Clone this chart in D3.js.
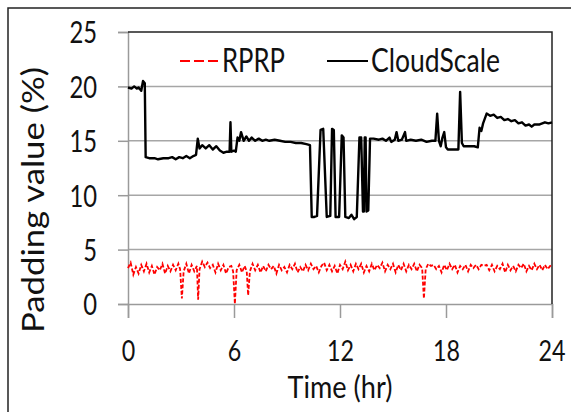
<!DOCTYPE html>
<html>
<head>
<meta charset="utf-8">
<script src="https://cdn.jsdelivr.net/npm/d3@7"></script>
<style>
  html, body { margin: 0; padding: 0; background: #fff; }
  svg { display: block; }
  text { font-family: Lato, "Open Sans", sans-serif; fill: #111; }
</style>
</head>
<body>
<svg id="chart" width="571" height="412"></svg>
<script>
// series: [hour, padding %]
const cloudScale = [
  [0.0, 19.9], [0.2, 19.8], [0.35, 20.0], [0.5, 19.8], [0.6, 19.9], [0.75, 19.6],
  [0.85, 20.5], [0.95, 20.3], [1.0, 13.5], [1.2, 13.4], [1.5, 13.4], [1.7, 13.3],
  [2.0, 13.4], [2.3, 13.4], [2.5, 13.5], [2.7, 13.3], [2.9, 13.5], [3.1, 13.4],
  [3.3, 13.6], [3.5, 13.4], [3.7, 13.6], [3.85, 13.7], [3.95, 15.2], [4.05, 14.3],
  [4.2, 14.6], [4.4, 14.3], [4.6, 14.6], [4.8, 14.2], [5.0, 14.5], [5.2, 14.1],
  [5.4, 13.9], [5.6, 14.0], [5.75, 14.0], [5.8, 16.7], [5.85, 14.0], [6.0, 14.1],
  [6.1, 14.0], [6.2, 15.3], [6.3, 15.0], [6.4, 15.8], [6.55, 15.0], [6.7, 15.4],
  [6.85, 15.0], [7.0, 15.3], [7.2, 15.0], [7.4, 15.2], [7.6, 15.0], [7.8, 15.1],
  [8.0, 15.0], [8.3, 15.1], [8.6, 15.0], [8.9, 14.9], [9.2, 14.9], [9.5, 14.8],
  [9.8, 14.8], [10.1, 14.7], [10.3, 14.6], [10.4, 8.0], [10.55, 8.0], [10.7, 8.1],
  [10.9, 16.0], [11.05, 16.1], [11.25, 8.0], [11.45, 8.1], [11.55, 16.1], [11.65, 16.0],
  [11.75, 8.0], [11.95, 8.0], [12.1, 15.5], [12.2, 15.3], [12.3, 8.0], [12.5, 7.9],
  [12.65, 8.2], [12.8, 7.8], [12.95, 8.0], [13.1, 15.3], [13.2, 15.3], [13.3, 8.5],
  [13.35, 8.5], [13.4, 15.3], [13.45, 15.3], [13.5, 8.5], [13.6, 8.6], [13.7, 15.2],
  [13.9, 15.2], [14.2, 15.1], [14.4, 15.2], [14.6, 15.0], [14.8, 15.3], [14.9, 14.9],
  [15.1, 15.1], [15.2, 15.8], [15.3, 15.0], [15.5, 15.1], [15.68, 15.8], [15.75, 15.0],
  [16.0, 15.1], [16.3, 15.0], [16.6, 15.1], [16.9, 14.9], [17.2, 15.0], [17.4, 15.0],
  [17.5, 17.5], [17.6, 15.0], [17.7, 14.5], [17.8, 15.3], [17.9, 15.8], [18.0, 14.4],
  [18.1, 14.2], [18.4, 14.2], [18.7, 14.2], [18.8, 19.5], [18.9, 14.8], [19.0, 14.5],
  [19.3, 14.5], [19.6, 14.5], [19.8, 14.4], [19.9, 16.2], [20.0, 15.9], [20.1, 16.6],
  [20.3, 17.5], [20.5, 17.3], [20.7, 17.4], [20.9, 17.1], [21.1, 17.2], [21.3, 16.9],
  [21.5, 17.0], [21.7, 16.8], [21.9, 16.9], [22.1, 16.6], [22.3, 16.7], [22.5, 16.4],
  [22.7, 16.5], [22.85, 16.3], [23.0, 16.5], [23.3, 16.5], [23.6, 16.7], [23.8, 16.6],
  [24.0, 16.7]
];

const rprp = [
  [0.0, 3.3], [0.15, 3.8], [0.3, 2.7], [0.45, 3.4], [0.6, 2.8], [0.75, 3.6], [0.9, 3.0],
  [1.05, 3.7], [1.2, 2.9], [1.35, 3.5], [1.5, 2.7], [1.65, 3.4], [1.8, 3.1], [1.95, 3.7],
  [2.1, 2.8], [2.25, 3.5], [2.4, 3.0], [2.55, 3.6], [2.7, 3.1], [2.85, 3.7], [2.95, 3.2],
  [3.05, 0.5], [3.15, 3.0], [3.3, 3.7], [3.45, 2.8], [3.6, 3.6], [3.75, 3.0], [3.9, 3.5],
  [3.97, 0.4], [4.05, 3.2], [4.2, 3.9], [4.35, 3.4], [4.5, 3.8], [4.65, 3.3], [4.8, 3.6],
  [4.95, 2.9], [5.1, 3.7], [5.25, 3.1], [5.4, 3.6], [5.55, 2.8], [5.7, 3.4], [5.85, 3.5],
  [5.95, 3.0], [6.05, 0.0], [6.15, 3.1], [6.3, 3.6], [6.45, 2.9], [6.6, 3.5], [6.72, 3.0],
  [6.8, 0.8], [6.9, 3.0], [7.05, 3.7], [7.2, 3.1], [7.35, 3.6], [7.5, 2.9], [7.65, 3.5],
  [7.8, 3.0], [7.95, 3.6], [8.1, 3.2], [8.25, 3.5], [8.4, 2.8], [8.55, 3.6], [8.7, 3.1],
  [8.85, 3.4], [9.0, 2.9], [9.15, 3.6], [9.3, 3.2], [9.45, 3.7], [9.6, 2.9], [9.75, 3.4],
  [9.9, 3.0], [10.05, 3.6], [10.2, 3.1], [10.35, 3.7], [10.5, 3.2], [10.65, 3.5], [10.8, 2.9],
  [10.95, 3.5], [11.1, 3.8], [11.25, 3.1], [11.4, 3.6], [11.55, 3.0], [11.7, 3.5], [11.85, 2.8],
  [12.0, 3.6], [12.15, 3.2], [12.3, 3.9], [12.45, 3.1], [12.6, 3.6], [12.75, 3.0], [12.9, 3.7],
  [13.05, 3.2], [13.2, 3.7], [13.35, 2.9], [13.5, 3.5], [13.65, 3.0], [13.8, 3.7], [13.95, 3.1],
  [14.1, 3.6], [14.25, 3.3], [14.4, 3.8], [14.55, 3.0], [14.7, 3.6], [14.85, 3.2], [15.0, 3.7],
  [15.15, 2.9], [15.3, 3.6], [15.45, 3.1], [15.6, 3.7], [15.75, 3.0], [15.9, 3.6], [16.05, 3.2],
  [16.2, 3.7], [16.35, 3.0], [16.5, 3.6], [16.65, 3.3], [16.75, 0.5], [16.85, 3.2], [17.0, 3.7],
  [17.15, 3.5], [17.3, 3.6], [17.45, 3.2], [17.6, 3.5], [17.75, 2.9], [17.9, 3.6], [18.05, 3.1],
  [18.2, 3.7], [18.35, 3.2], [18.5, 3.6], [18.65, 2.9], [18.8, 3.5], [18.95, 3.2], [19.1, 3.6],
  [19.25, 3.0], [19.4, 3.6], [19.55, 3.3], [19.7, 3.6], [19.85, 3.2], [20.0, 3.6], [20.15, 3.5],
  [20.3, 3.6], [20.45, 3.1], [20.6, 3.6], [20.75, 3.0], [20.9, 3.5], [21.05, 3.2], [21.2, 3.7],
  [21.35, 2.9], [21.5, 3.6], [21.65, 3.1], [21.8, 3.5], [21.95, 3.0], [22.1, 3.6], [22.25, 3.3],
  [22.4, 3.7], [22.55, 3.0], [22.7, 3.5], [22.85, 3.1], [23.0, 3.7], [23.15, 3.2], [23.3, 3.6],
  [23.45, 3.1], [23.6, 3.6], [23.75, 3.2], [23.9, 3.5], [24.0, 3.7]
];

const xTicks = [0, 6, 12, 18, 24];
const yTicks = [0, 5, 10, 15, 20, 25];
const seriesNames = ["RPRP", "CloudScale"];

const svg = d3.select("#chart");
const L = 128, R = 552, T = 32, B = 304;

const x = d3.scaleLinear().domain([0, 24]).range([L, R]);
const y = d3.scaleLinear().domain([0, 25]).range([B, T]);

// outer frame (only left and top edges show)
svg.append("path")
  .attr("d", "M8,412 V8 H571")
  .attr("fill", "none")
  .attr("stroke", "#222")
  .attr("stroke-width", 1.5);

// gridlines
svg.append("g")
  .selectAll("line")
  .data(yTicks.slice(1, -1))
  .join("line")
  .attr("x1", L).attr("x2", R)
  .attr("y1", d => y(d)).attr("y2", d => y(d))
  .attr("stroke", "#a6a6a6")
  .attr("stroke-width", 1.5);

// y axis
const yAxis = svg.append("g")
  .attr("transform", `translate(${L},0)`)
  .call(d3.axisLeft(y).tickValues(yTicks).tickSize(10).tickPadding(21));
yAxis.select(".domain").attr("stroke", "#9a9a9a").attr("stroke-width", 1.5);
yAxis.selectAll(".tick line").attr("stroke", "#9a9a9a").attr("stroke-width", 1.5);
yAxis.selectAll(".tick text")
  .attr("font-size", 30)
  .attr("font-family", "Lato")
  .attr("fill", "#111")
  .attr("dy", "0.36em")
  .attr("textLength", d => String(d).length * 13.8)
  .attr("lengthAdjust", "spacingAndGlyphs");

// x axis
const xAxis = svg.append("g")
  .attr("transform", `translate(0,${B})`)
  .call(d3.axisBottom(x).tickValues(xTicks).tickSize(14).tickPadding(22));
xAxis.select(".domain").attr("stroke", "#9a9a9a").attr("stroke-width", 1.5);
xAxis.selectAll(".tick line").attr("stroke", "#9a9a9a").attr("stroke-width", 1.5);
xAxis.selectAll(".tick text")
  .attr("font-size", 29)
  .attr("font-family", "Lato")
  .attr("fill", "#111")
  .attr("textLength", d => String(d).length * 13.5)
  .attr("lengthAdjust", "spacingAndGlyphs");
// last label sits at the right edge, anchor it by its end
xAxis.selectAll(".tick text")
  .filter(d => d === 24)
  .attr("text-anchor", "end")
  .attr("x", 13);

// plot border top / right
svg.append("path")
  .attr("d", `M${L},${T} H${R} V${B}`)
  .attr("fill", "none")
  .attr("stroke", "#222")
  .attr("stroke-width", 1.5);

const line = d3.line().x(d => x(d[0])).y(d => y(d[1]));

svg.append("path")
  .datum(rprp)
  .attr("d", line)
  .attr("fill", "none")
  .attr("stroke", "#ff0000")
  .attr("stroke-width", 1.8)
  .attr("stroke-dasharray", "4,2");

svg.append("path")
  .datum(cloudScale)
  .attr("d", line)
  .attr("fill", "none")
  .attr("stroke", "#000")
  .attr("stroke-width", 2.4)
  .attr("stroke-linejoin", "round");

// legend
const legend = svg.append("g");
legend.append("line")
  .attr("x1", 180).attr("x2", 220).attr("y1", 61).attr("y2", 61)
  .attr("stroke", "#ff0000").attr("stroke-width", 2.2)
  .attr("stroke-dasharray", "10,4");
legend.append("text")
  .attr("x", 222).attr("y", 72)
  .attr("font-size", 32)
  .attr("textLength", 63).attr("lengthAdjust", "spacingAndGlyphs")
  .text(seriesNames[0]);
legend.append("line")
  .attr("x1", 327).attr("x2", 368).attr("y1", 61).attr("y2", 61)
  .attr("stroke", "#000").attr("stroke-width", 2.2);
legend.append("text")
  .attr("x", 371).attr("y", 72)
  .attr("font-size", 32)
  .attr("textLength", 129).attr("lengthAdjust", "spacingAndGlyphs")
  .text(seriesNames[1]);

// axis titles
svg.append("text")
  .attr("x", 340).attr("y", 398)
  .attr("text-anchor", "middle")
  .attr("font-size", 31)
  .attr("textLength", 105).attr("lengthAdjust", "spacingAndGlyphs")
  .text("Time (hr)");

svg.append("text")
  .attr("transform", "translate(44,200) rotate(-90)")
  .attr("text-anchor", "middle")
  .attr("font-size", 31)
  .attr("textLength", 266).attr("lengthAdjust", "spacingAndGlyphs")
  .text("Padding value (%)");
</script>
</body>
</html>
